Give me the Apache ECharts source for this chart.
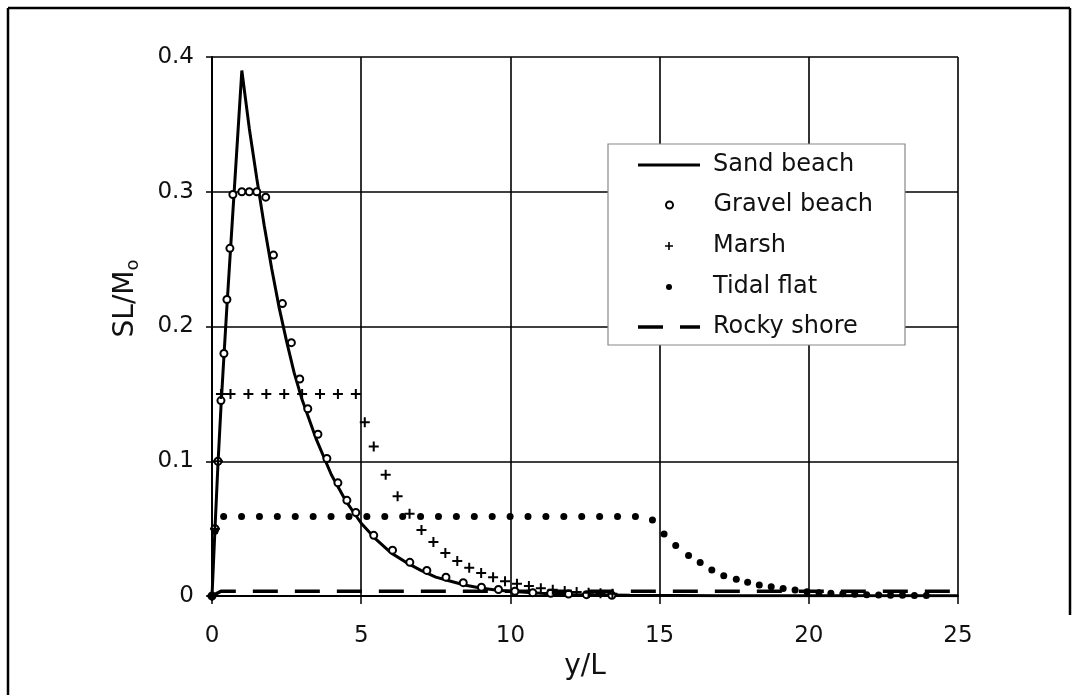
<!DOCTYPE html>
<html><head><meta charset="utf-8">
<script src="https://cdn.jsdelivr.net/npm/echarts@6/dist/echarts.min.js"></script>
<style>html,body{margin:0;padding:0;background:#fff}#c{width:1078px;height:695px}</style>
</head><body><div id="c"></div>
<script>
// ---- data (x = y/L, y = SL/M0) ----
const xTicks = [0, 5, 10, 15, 20, 25];
const yTicks = [0, 0.1, 0.2, 0.3, 0.4];
const seriesNames = ['Sand beach', 'Gravel beach', 'Marsh', 'Tidal flat', 'Rocky shore'];

const sandBeach = [
  [0,0],[0.1,0.05],[0.2,0.098],[0.3,0.14],[0.4,0.178],[0.5,0.215],[0.6,0.25],[0.7,0.285],
  [0.8,0.32],[0.9,0.355],[1,0.39],[1.25,0.347],[1.5,0.31],[1.75,0.275],[2,0.243],[2.25,0.214],
  [2.5,0.189],[2.75,0.166],[3,0.147],[3.5,0.116],[4,0.09],[4.5,0.07],[5,0.054],[5.5,0.042],
  [6,0.032],[6.5,0.025],[7,0.019],[7.5,0.014],[8,0.011],[8.5,0.008],[9,0.006],[9.5,0.0045],
  [10,0.0035],[11,0.002],[12,0.0012],[14,0.0005],[17,0.0002],[25,0.0001]
];
const gravelBeach = [
  [0,0],[0.1,0.05],[0.2,0.1],[0.3,0.145],[0.4,0.18],[0.5,0.22],[0.6,0.258],[0.7,0.298],
  [1.0,0.3],[1.25,0.3],[1.5,0.3],[1.8,0.296],[2.06,0.253],[2.36,0.217],[2.66,0.188],
  [2.94,0.161],[3.21,0.139],[3.55,0.12],[3.85,0.102],[4.22,0.084],[4.52,0.071],[4.82,0.062],
  [5.42,0.045],[6.05,0.034],[6.63,0.025],[7.2,0.019],[7.84,0.014],[8.42,0.0099],[9.03,0.0065],
  [9.6,0.0048],[10.15,0.0035],[10.75,0.0025],[11.35,0.002],[11.95,0.0015],[12.55,0.001],[13.4,0.0005]
];
const marsh = [
  [0,0],[0.1,0.05],[0.2,0.1],[0.3,0.15],[0.62,0.15],[1.22,0.15],[1.82,0.15],[2.42,0.15],
  [3.02,0.15],[3.62,0.15],[4.22,0.15],[4.82,0.15],[5.12,0.129],[5.42,0.111],[5.82,0.09],
  [6.22,0.074],[6.62,0.061],[7.02,0.049],[7.42,0.04],[7.82,0.032],[8.22,0.026],[8.62,0.021],
  [9.02,0.017],[9.42,0.014],[9.82,0.011],[10.22,0.009],[10.62,0.0074],[11.02,0.0058],
  [11.42,0.0046],[11.82,0.0037],[12.22,0.003],[12.62,0.0025],[13.02,0.002],[13.42,0.0016]
];
const tidalFlat = [
  [0,0],[0.1,0.048],[0.39,0.059],[0.99,0.059],[1.59,0.059],[2.19,0.059],[2.79,0.059],
  [3.39,0.059],[3.99,0.059],[4.59,0.059],[5.19,0.059],[5.79,0.059],[6.39,0.059],[6.99,0.059],
  [7.59,0.059],[8.19,0.059],[8.79,0.059],[9.39,0.059],[9.99,0.059],[10.59,0.059],[11.19,0.059],
  [11.79,0.059],[12.39,0.059],[12.99,0.059],[13.59,0.059],[14.19,0.059],[14.76,0.0564],
  [15.15,0.046],[15.54,0.0374],[15.97,0.030],[16.36,0.0248],[16.75,0.0193],[17.15,0.0151],
  [17.57,0.0124],[17.95,0.0102],[18.34,0.0082],[18.74,0.0069],[19.14,0.0055],[19.54,0.0045],
  [19.94,0.0032],[20.34,0.0025],[20.74,0.002],[21.14,0.0016],[21.54,0.0013],[21.94,0.001],
  [22.34,0.0008],[22.74,0.0006],[23.14,0.0005],[23.54,0.0004],[23.94,0.0003]
];
const rockyShore = [[0,0],[0.3,0.0035],[25,0.0035]];

// ---- chart ----
const PLUS = 'path://M4,0H6V4H10V6H6V10H4V6H0V4H4Z';
const DASH2 = 'path://M0,0H25V1H0Z M42,0H62V1H42Z';
const FONT = 'DejaVu Sans';
const chart = echarts.init(document.getElementById('c'));

function legendRow(name, icon, rowY, left, iw, ih, keepAspect) {
  return {
    data: [{ name: name, icon: icon }],
    left: left, top: rowY - 14, padding: 0,
    itemWidth: iw, itemHeight: ih,
    symbolKeepAspect: keepAspect,
    selectedMode: false,
    itemStyle: { opacity: 1 },
    textStyle: { fontFamily: FONT, fontSize: 24, color: '#111', lineHeight: 28, padding: [0, 0, 0, 8] }
  };
}

chart.setOption({
  animation: false,
  backgroundColor: '#fff',
  grid: { left: 212, right: 120, top: 57, bottom: 99, containLabel: false },
  xAxis: {
    type: 'value', min: xTicks[0], max: xTicks[xTicks.length - 1], interval: 5,
    name: 'y/L', nameLocation: 'middle', nameGap: 50,
    nameTextStyle: { fontFamily: FONT, fontSize: 28, color: '#111' },
    axisLine: { lineStyle: { color: '#000', width: 2 } },
    axisTick: { show: true, length: 8, inside: false, lineStyle: { color: '#000', width: 1.5 } },
    axisLabel: { fontFamily: FONT, fontSize: 23, color: '#111', margin: 29 },
    splitLine: { show: true, lineStyle: { color: '#000', width: 1.6 } }
  },
  yAxis: {
    type: 'value', min: yTicks[0], max: yTicks[yTicks.length - 1], interval: 0.1,
    name: 'SL/M{s|o}', nameLocation: 'middle', nameGap: 70, nameRotate: 90,
    nameTextStyle: { fontFamily: FONT, fontSize: 28, color: '#111', padding: [0, 0, 0, 56],
      rich: { s: { fontFamily: FONT, fontSize: 18, color: '#111', verticalAlign: 'bottom', padding: [14, 0, 0, 0] } } },
    axisLine: { lineStyle: { color: '#000', width: 2 } },
    axisTick: { show: true, length: 6, lineStyle: { color: '#000', width: 1.5 } },
    axisLabel: { fontFamily: FONT, fontSize: 23, color: '#111', margin: 18 },
    splitLine: { show: true, lineStyle: { color: '#000', width: 1.6 } }
  },
  legend: [
    legendRow(seriesNames[0], 'rect', 165, 638, 62, 3, false),
    legendRow(seriesNames[1], 'emptyCircle', 205, 665, 62, 7, true),
    legendRow(seriesNames[2], PLUS, 246, 665, 62, 8, true),
    legendRow(seriesNames[3], 'circle', 287, 666, 62, 6, true),
    legendRow(seriesNames[4], DASH2, 327, 638, 62, 3.5, false)
  ],
  graphic: [
    { type: 'rect', z: 3, shape: { x: 608, y: 144, width: 297, height: 201 },
      style: { fill: '#fff', stroke: '#888', lineWidth: 1.2 } },
    { type: 'line', z: 5, shape: { x1: 8, y1: 8, x2: 1070, y2: 8 }, style: { stroke: '#000', lineWidth: 2.5 } },
    { type: 'line', z: 5, shape: { x1: 8, y1: 8, x2: 8, y2: 695 }, style: { stroke: '#000', lineWidth: 2.5 } },
    { type: 'line', z: 5, shape: { x1: 1070, y1: 8, x2: 1070, y2: 615 }, style: { stroke: '#000', lineWidth: 2.5 } }
  ],
  series: [
    { name: seriesNames[0], type: 'line', data: sandBeach, symbol: 'none', z: 2,
      lineStyle: { color: '#000', width: 3 }, itemStyle: { color: '#000' } },
    { name: seriesNames[1], type: 'scatter', data: gravelBeach, symbol: 'emptyCircle', symbolSize: 7, z: 4,
      itemStyle: { color: '#000', borderColor: '#000', borderWidth: 1.5, opacity: 1 } },
    { name: seriesNames[2], type: 'scatter', data: marsh, symbol: PLUS, symbolSize: 10, z: 4,
      itemStyle: { color: '#000', opacity: 1 } },
    { name: seriesNames[3], type: 'scatter', data: tidalFlat, symbol: 'circle', symbolSize: 7, z: 4,
      itemStyle: { color: '#000', opacity: 1 } },
    { name: seriesNames[4], type: 'line', data: rockyShore, symbol: 'none', z: 2,
      lineStyle: { color: '#000', width: 3.5, type: [25, 17] }, itemStyle: { color: '#000' } }
  ]
});
</script>
</body></html>
